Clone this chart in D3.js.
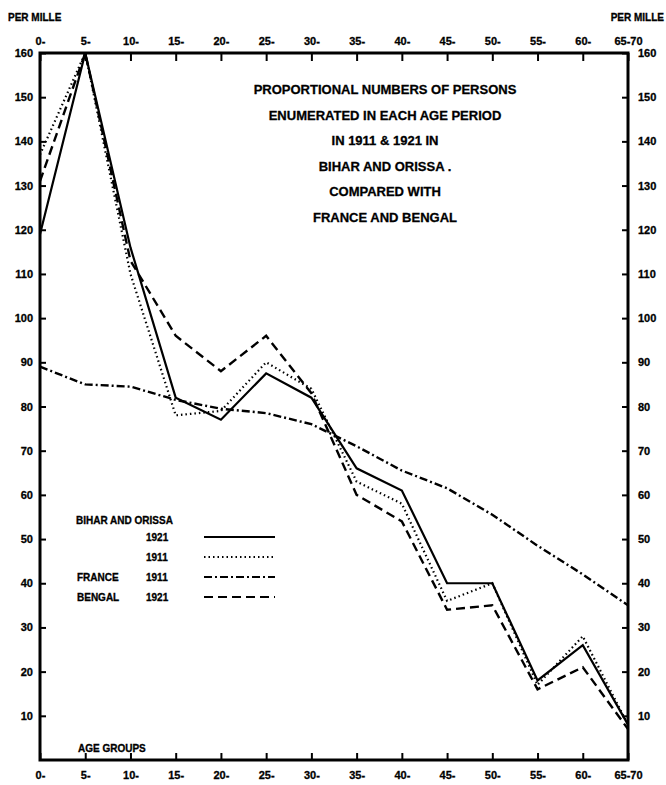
<!DOCTYPE html>
<html lang="en">
<head>
	<meta charset="utf-8">
	<script type="text/javascript" src="https://d3js.org/d3.v7.min.js"></script>
	<style type="text/css">
		body { margin: 0; background: #fff; }
		text { font-family: "Liberation Sans", Arial, sans-serif; font-weight: bold; fill: #000; stroke: #000; stroke-width: 0.3px; }
	</style>
</head>
<body>
<script type="text/javascript">
var ageGroups = ["0-", "5-", "10-", "15-", "20-", "25-", "30-", "35-", "40-", "45-", "50-", "55-", "60-", "65-70"];
var bihar1921 = [119, 160, 116, 82, 77, 87.5, 82, 66, 61, 40, 40, 18, 26, 8];
var bihar1911 = [137, 160, 110, 78, 79, 90, 84, 63, 58, 36, 40, 17, 28, 8];
var france1911 = [89, 85, 84.5, 81.5, 79.5, 78.5, 76, 71, 65.5, 61.5, 55.5, 48.5, 42, 35];
var bengal1921 = [131, 160, 113, 96, 88, 96, 83, 60, 54, 34, 35, 16, 21, 7];
var yTicks = [10, 20, 30, 40, 50, 60, 70, 80, 90, 100, 110, 120, 130, 140, 150, 160];
var titleLines = ["PROPORTIONAL NUMBERS OF PERSONS", "ENUMERATED IN EACH AGE PERIOD",
    "IN 1911 & 1921 IN", "BIHAR AND ORISSA .", "COMPARED WITH", "FRANCE AND BENGAL"];

var width = 666, height = 785;
var plotL = 40, plotR = 628, plotT = 53, plotB = 760;

var svg = d3.select("body").append("svg")
    .attr("width", width)
    .attr("height", height);

var x = d3.scalePoint().domain(ageGroups).range([plotL, plotR]);
var y = d3.scaleLinear().domain([0, 160]).range([plotB, plotT]);

// axes
var topAxis = d3.axisTop(x).tickSizeInner(-8).tickSizeOuter(0).tickPadding(8);
var bottomAxis = d3.axisBottom(x).tickSizeInner(-7).tickSizeOuter(0).tickPadding(11);
var leftAxis = d3.axisLeft(y).tickValues(yTicks).tickSizeInner(-6).tickSizeOuter(0).tickPadding(7);
var rightAxis = d3.axisRight(y).tickValues(yTicks).tickSizeInner(-6).tickSizeOuter(0).tickPadding(10);

function styleAxis(g, size) {
    g.select(".domain").remove();
    g.selectAll(".tick line").attr("stroke", "#000").attr("stroke-width", 2);
    g.selectAll(".tick text")
        .style("font-size", size + "px")
        .style("font-weight", "bold")
        .style("font-family", "'Liberation Sans', Arial, sans-serif")
        .attr("fill", "#000");
}

svg.append("g").attr("transform", "translate(0," + plotT + ")").call(topAxis).call(styleAxis, 11);
svg.append("g").attr("transform", "translate(0," + plotB + ")").call(bottomAxis).call(styleAxis, 11);
svg.append("g").attr("transform", "translate(" + plotL + ",0)").call(leftAxis).call(styleAxis, 11);
svg.append("g").attr("transform", "translate(" + plotR + ",0)").call(rightAxis).call(styleAxis, 11);

// frame
svg.append("rect")
    .attr("x", plotL).attr("y", plotT)
    .attr("width", plotR - plotL).attr("height", plotB - plotT)
    .attr("fill", "none").attr("stroke", "#000").attr("stroke-width", 3);

// series
var series = [
    {name: "1921", values: bihar1921, dash: null, width: 2.2},
    {name: "1911", values: bihar1911, dash: "1.5,3", width: 2.2},
    {name: "FRANCE 1911", values: france1911, dash: "8,3,2,3", width: 2.4},
    {name: "BENGAL 1921", values: bengal1921, dash: "9,5", width: 2.4}
];

var line = d3.line()
    .x(function(d, i) { return x(ageGroups[i]); })
    .y(function(d) { return y(d); });

svg.selectAll(".series")
    .data(series)
    .enter()
    .append("path")
    .attr("class", "series")
    .attr("d", function(d) { return line(d.values); })
    .attr("fill", "none")
    .attr("stroke", "#000")
    .attr("stroke-width", function(d) { return d.width; })
    .attr("stroke-linejoin", "miter")
    .attr("stroke-dasharray", function(d) { return d.dash; });

// title
svg.append("g").selectAll("text")
    .data(titleLines)
    .enter()
    .append("text")
    .attr("x", 385)
    .attr("y", function(d, i) { return 94 + i * 25.6; })
    .attr("text-anchor", "middle")
    .style("font-size", "13px")
    .text(function(d) { return d; });

// corner labels
svg.append("text").attr("x", 8).attr("y", 21).style("font-size", "10px").text("PER MILLE");
svg.append("text").attr("x", 664).attr("y", 21).attr("text-anchor", "end").style("font-size", "10px").text("PER MILLE");
svg.append("text").attr("x", 78).attr("y", 752).style("font-size", "10px").text("AGE GROUPS");

// legend
var legend = svg.append("g");
legend.append("text").attr("x", 76).attr("y", 524).style("font-size", "10px").text("BIHAR AND ORISSA");
var legendRows = [
    {label: "", year: "1921"},
    {label: "", year: "1911"},
    {label: "FRANCE", year: "1911"},
    {label: "BENGAL", year: "1921"}
];
legendRows.forEach(function(r, i) {
    var ly = 541 + i * 20;
    legend.append("text").attr("x", 77).attr("y", ly).style("font-size", "10px").text(r.label);
    legend.append("text").attr("x", 146).attr("y", ly).style("font-size", "10px").text(r.year);
    legend.append("line")
        .attr("x1", 204).attr("x2", 275)
        .attr("y1", ly - 4).attr("y2", ly - 4)
        .attr("stroke", "#000")
        .attr("stroke-width", 2)
        .attr("stroke-dasharray", series[i].dash);
});
</script>
</body>
</html>
